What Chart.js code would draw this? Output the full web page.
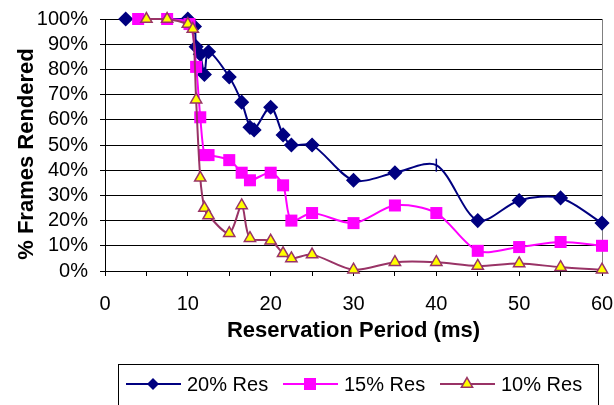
<!DOCTYPE html>
<html>
<head>
<meta charset="utf-8">
<script src="https://cdn.jsdelivr.net/npm/chart.js@4/dist/chart.umd.min.js"></script>
<style>
  html, body { margin: 0; padding: 0; background: #ffffff; }
  #wrap { width: 614px; height: 405px; position: relative; }
</style>
</head>
<body>
<div id="wrap"><canvas id="chart" width="614" height="405"></canvas></div>
<script>
// Reservation period (ms) and share of frames rendered (%) for each reservation level
const res20X = [2.5, 10, 10.8, 11, 11.5, 12, 12.5, 15, 16.5, 17.5, 18, 20, 21.5, 22.5, 25, 30, 35, 40, 45, 50, 55, 60];
const res20Y = [100, 100, 97, 89, 86, 78, 87, 77, 67, 57, 56, 65, 54, 50, 50, 36, 39, 42, 20, 28, 29, 19];

const res15X = [4, 7.5, 10.2, 11, 11.5, 12, 12.5, 15, 16.5, 17.5, 20, 21.5, 22.5, 25, 30, 35, 40, 45, 50, 55, 60];
const res15Y = [100, 100, 98, 81, 61, 46, 46, 44, 39, 36, 39, 34, 20, 23, 19, 26, 23, 8, 9.5, 11.5, 10];

const res10X = [5, 7.5, 10, 10.6, 11, 11.5, 12, 12.5, 15, 16.5, 17.5, 20, 21.5, 22.5, 25, 30, 35, 40, 45, 50, 55, 60];
const res10Y = [100, 100, 98, 96, 68, 37, 25, 22, 15, 26, 13, 12, 7, 5, 6.5, 0.5, 3.5, 3.5, 2, 3, 1.5, 0.5];

const seriesNames = ['20% Res', '15% Res', '10% Res'];
const xTicks = [0, 10, 20, 30, 40, 50, 60];
const yTicks = [0, 10, 20, 30, 40, 50, 60, 70, 80, 90, 100];

const xTitle = 'Reservation Period (ms)';
const yTitle = '% Frames Rendered';

// Marker style per point of the 20% series (the 40 ms reading is shown as a bar mark)
const res20Styles = res20X.map(x => x === 40 ? 'line' : 'rectRot');
const res20Rot = res20X.map(x => x === 40 ? 90 : 0);

const NAVY = '#000080', MAGENTA = '#FF00FF', MAROON = '#993366', YELLOW = '#FFFF00';
const FONT = 'Arial, "Liberation Sans", sans-serif';

const zip = (xs, ys) => xs.map((x, i) => ({ x, y: ys[i] }));

// Frame: grey right edge of the plot area
const framePlugin = {
  id: 'frame',
  beforeDatasetsDraw(chart) {
    const { ctx, chartArea: a } = chart;
    ctx.save();
    ctx.strokeStyle = '#808080';
    ctx.lineWidth = 1;
    ctx.beginPath();
    ctx.moveTo(Math.round(a.right) + 0.5, a.top);
    ctx.lineTo(Math.round(a.right) + 0.5, a.bottom);
    ctx.stroke();
    ctx.restore();
  }
};

function drawMarker(ctx, kind, x, y) {
  ctx.beginPath();
  if (kind === 'diamond') {
    const r = 6;
    ctx.moveTo(x, y - r); ctx.lineTo(x + r, y); ctx.lineTo(x, y + r); ctx.lineTo(x - r, y);
    ctx.closePath();
    ctx.fillStyle = NAVY; ctx.fill();
  } else if (kind === 'square') {
    const s = 6;
    ctx.rect(x - s, y - s, 2 * s, 2 * s);
    ctx.fillStyle = MAGENTA; ctx.fill();
  } else {
    const r = 6.5;
    ctx.moveTo(x, y - r);
    ctx.lineTo(x + r * 0.866, y + r * 0.5);
    ctx.lineTo(x - r * 0.866, y + r * 0.5);
    ctx.closePath();
    ctx.fillStyle = YELLOW; ctx.fill();
    ctx.strokeStyle = MAROON; ctx.lineWidth = 1.5; ctx.stroke();
  }
}

// Axis titles and the boxed legend under the plot
const annotatePlugin = {
  id: 'annotate',
  afterDraw(chart) {
    const { ctx, chartArea: a } = chart;
    ctx.save();
    ctx.fillStyle = '#000';
    ctx.font = 'bold 22px ' + FONT;
    ctx.textAlign = 'center';
    ctx.textBaseline = 'alphabetic';
    ctx.fillText(xTitle, (a.left + a.right) / 2, 337);

    ctx.save();
    ctx.translate(33, 154);
    ctx.rotate(-Math.PI / 2);
    ctx.fillText(yTitle, 0, 0);
    ctx.restore();

    // legend box
    ctx.strokeStyle = '#000';
    ctx.lineWidth = 1;
    ctx.strokeRect(118.5, 364.5, 480, 60);

    const colors = [NAVY, MAGENTA, MAROON];
    const kinds = ['diamond', 'square', 'triangle'];
    ctx.font = '20px ' + FONT;
    ctx.textAlign = 'left';
    seriesNames.forEach((name, i) => {
      const x0 = 126 + i * 157;
      const cy = 384;
      ctx.strokeStyle = colors[i];
      ctx.lineWidth = 2;
      ctx.beginPath();
      ctx.moveTo(x0, cy);
      ctx.lineTo(x0 + 55, cy);
      ctx.stroke();
      drawMarker(ctx, kinds[i], x0 + 27, cy);
      ctx.fillStyle = '#000';
      ctx.fillText(name, x0 + 61, 391);
    });
    ctx.restore();
  }
};

new Chart(document.getElementById('chart'), {
  type: 'line',
  data: {
    datasets: [
      {
        label: seriesNames[0],
        data: zip(res20X, res20Y),
        borderColor: NAVY,
        backgroundColor: NAVY,
        borderWidth: 2,
        pointStyle: res20Styles,
        rotation: res20Rot,
        pointRadius: 6.5,
        pointBorderWidth: 1.5,
        pointBorderColor: NAVY,
        pointBackgroundColor: NAVY,
        tension: 0.3,
        clip: false,
        order: 3
      },
      {
        label: seriesNames[1],
        data: zip(res15X, res15Y),
        borderColor: MAGENTA,
        backgroundColor: MAGENTA,
        borderWidth: 2,
        pointStyle: 'rect',
        pointRadius: 8.5,
        pointBorderWidth: 0,
        pointBackgroundColor: MAGENTA,
        tension: 0.3,
        clip: false,
        order: 2
      },
      {
        label: seriesNames[2],
        data: zip(res10X, res10Y),
        borderColor: MAROON,
        backgroundColor: YELLOW,
        borderWidth: 2,
        pointStyle: 'triangle',
        pointRadius: 6.5,
        pointBorderWidth: 1.5,
        pointBorderColor: MAROON,
        pointBackgroundColor: YELLOW,
        tension: 0.3,
        clip: false,
        order: 1
      }
    ]
  },
  options: {
    responsive: false,
    animation: false,
    devicePixelRatio: 1,
    layout: { padding: { left: 0, right: 12, top: 19, bottom: 0 } },
    plugins: { legend: { display: false }, tooltip: { enabled: false } },
    scales: {
      x: {
        type: 'linear',
        min: 0,
        max: 60,
        ticks: {
          stepSize: 5,
          autoSkip: false,
          maxRotation: 0,
          padding: 16,
          color: '#000',
          font: { family: FONT, size: 20 },
          callback: v => xTicks.includes(v) ? String(v) : ''
        },
        grid: { drawOnChartArea: false, drawTicks: true, tickLength: 5, tickColor: '#000', color: '#000' },
        border: { color: '#000', width: 1 },
        afterFit: s => { s.height = 134; s.paddingLeft = 0; s.paddingRight = 0; }
      },
      y: {
        min: 0,
        max: 100,
        ticks: {
          stepSize: 10,
          autoSkip: false,
          padding: 12,
          color: '#000',
          font: { family: FONT, size: 20 },
          callback: v => yTicks.includes(v) ? v + '%' : ''
        },
        grid: { color: '#000', lineWidth: 1, drawTicks: true, tickLength: 5, tickColor: '#000' },
        border: { color: '#000', width: 1 },
        afterFit: s => { s.width = 105; s.paddingTop = 0; s.paddingBottom = 0; }
      }
    }
  },
  plugins: [framePlugin, annotatePlugin]
});
</script>
</body>
</html>
